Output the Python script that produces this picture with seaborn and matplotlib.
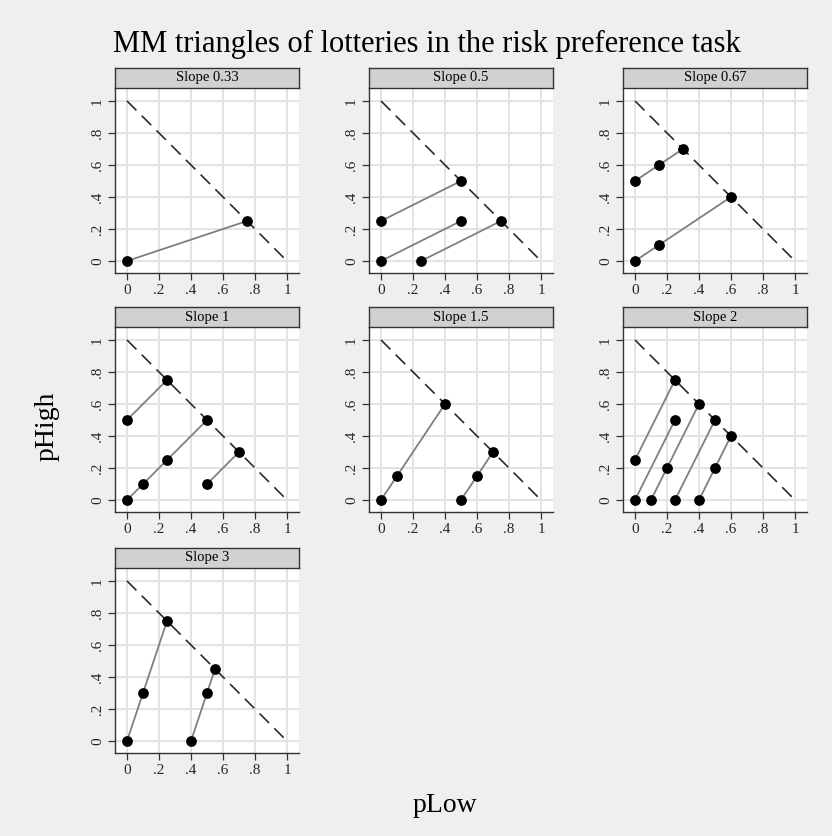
import numpy as np
import pandas as pd
import matplotlib
matplotlib.use("Agg")
import matplotlib.pyplot as plt
import seaborn as sns

# Lottery points per slope panel: each segment is a chain of (pLow, pHigh) points
slopes = ["0.33", "0.5", "0.67", "1", "1.5", "2", "3"]

seg_panel = [
    "0.33",
    "0.5", "0.5", "0.5",
    "0.67", "0.67",
    "1", "1", "1",
    "1.5", "1.5",
    "2", "2", "2", "2", "2",
    "3", "3",
]
seg_plow = [
    [0, 0.75],
    [0, 0.5], [0, 0.5], [0.25, 0.75],
    [0, 0.15, 0.3], [0, 0.15, 0.6],
    [0, 0.25], [0, 0.1, 0.25, 0.5], [0.5, 0.7],
    [0, 0.1, 0.4], [0.5, 0.6, 0.7],
    [0, 0.25], [0, 0.25], [0.1, 0.2, 0.4], [0.25, 0.5], [0.4, 0.5, 0.6],
    [0, 0.1, 0.25], [0.4, 0.5, 0.55],
]
seg_phigh = [
    [0, 0.25],
    [0.25, 0.5], [0, 0.25], [0, 0.25],
    [0.5, 0.6, 0.7], [0, 0.1, 0.4],
    [0.5, 0.75], [0, 0.1, 0.25, 0.5], [0.1, 0.3],
    [0, 0.15, 0.6], [0, 0.15, 0.3],
    [0.25, 0.75], [0, 0.5], [0, 0.2, 0.6], [0, 0.5], [0, 0.2, 0.4],
    [0, 0.3, 0.75], [0, 0.3, 0.45],
]

tick_vals = [0, 0.2, 0.4, 0.6, 0.8, 1]
tick_labels = ["0", ".2", ".4", ".6", ".8", "1"]

rows = []
for i, (p, xs, ys) in enumerate(zip(seg_panel, seg_plow, seg_phigh)):
    for x, y in zip(xs, ys):
        rows.append({"slope": p, "seg": i, "pLow": x, "pHigh": y})
df = pd.DataFrame(rows)

sns.set_style("white")
plt.rcParams["font.family"] = ["Liberation Serif", "DejaVu Serif"]

W, H = 832, 836
fig = plt.figure(figsize=(W / 100, H / 100), dpi=100)
fig.patch.set_facecolor("#efefef")

col_left = [115, 369, 623]
row_top = [68, 307, 548]  # strip top in pixels
strip_h = 20
plot_h = 185
panel_w = 184

GRID = "#e3e3e3"


def rect(left, top, w, h):
    return [left / W, 1 - (top + h) / H, w / W, h / H]


for k, s in enumerate(slopes):
    r, c = divmod(k, 3)
    left = col_left[c]
    top = row_top[r]

    ax = fig.add_axes(rect(left, top + strip_h, panel_w, plot_h))
    ax.set_facecolor("white")
    sub = df[df["slope"] == s]

    # certainty line pLow + pHigh = 1
    ax.plot([0, 1], [1, 0], color="#2a2a2a", lw=1.2, dashes=(8, 4.5), zorder=2)
    sns.lineplot(data=sub, x="pLow", y="pHigh", units="seg", estimator=None,
                 sort=False, color="#7f7f7f", lw=1.3, ax=ax, zorder=3)
    sns.scatterplot(data=sub, x="pLow", y="pHigh", color="black", s=60,
                    edgecolor="black", linewidth=0, ax=ax, zorder=4)

    ax.set_xlim(-0.075, 1.075)
    ax.set_ylim(-0.075, 1.081)
    ax.set_xticks(tick_vals)
    ax.set_xticklabels(tick_labels)
    ax.set_yticks(tick_vals)
    ax.set_yticklabels(tick_labels, rotation=90, va="center")
    ax.grid(True, color=GRID, lw=1.4)
    ax.set_axisbelow(True)
    ax.set_xlabel("")
    ax.set_ylabel("")
    for side in ["top", "right"]:
        ax.spines[side].set_visible(False)
    for side in ["left", "bottom"]:
        ax.spines[side].set_color("#333333")
        ax.spines[side].set_linewidth(1.0)
    ax.tick_params(axis="both", direction="out", length=5, width=0.9,
                   color="#333333", labelsize=11, pad=3,
                   left=True, bottom=True)

    sax = fig.add_axes(rect(left, top, panel_w, strip_h))
    sax.set_facecolor("#d1d1d1")
    sax.set_xticks([])
    sax.set_yticks([])
    for sp in sax.spines.values():
        sp.set_color("#333333")
        sp.set_linewidth(1.0)
    sax.text(0.5, 0.5, f"Slope {s}", ha="center", va="center",
             fontsize=10.5, color="black", transform=sax.transAxes)

fig.text(427 / W, 1 - 44 / H, "MM triangles of lotteries in the risk preference task",
         ha="center", va="center", fontsize=22, color="black")
fig.text(47 / W, 1 - 426 / H, "pHigh", rotation=90, ha="center", va="center",
         fontsize=20, color="black")
fig.text(445 / W, 1 - 805 / H, "pLow", ha="center", va="center", fontsize=20,
         color="black")

fig.savefig("out.png", dpi=100, facecolor=fig.get_facecolor())
